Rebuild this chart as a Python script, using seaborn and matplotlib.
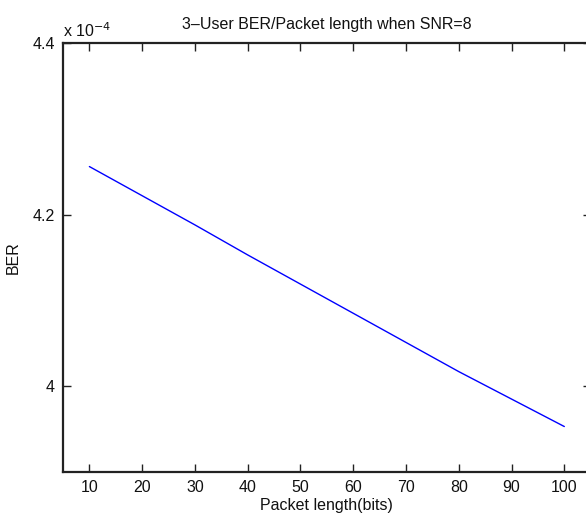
import matplotlib
matplotlib.use("Agg")
import matplotlib.pyplot as plt
import seaborn as sns
import pandas as pd
from matplotlib.ticker import FuncFormatter

# Bit error rate versus packet length for 3 users at SNR = 8
packet_length = [10, 20, 30, 40, 50, 60, 70, 80, 90, 100]
ber = [4.256e-4, 4.222e-4, 4.188e-4, 4.153e-4, 4.119e-4,
       4.085e-4, 4.051e-4, 4.017e-4, 3.985e-4, 3.953e-4]
x_ticks = [10, 20, 30, 40, 50, 60, 70, 80, 90, 100]
y_ticks = [4.0e-4, 4.2e-4, 4.4e-4]

sns.set_style("ticks", {"xtick.direction": "in", "ytick.direction": "in",
                        "xtick.top": True, "ytick.right": True})
plt.rcParams["font.family"] = ["Liberation Sans", "DejaVu Sans"]

df = pd.DataFrame({"Packet length(bits)": packet_length, "BER": ber})

fig = plt.figure(figsize=(5.86, 5.16), dpi=100)
ax = fig.add_axes([63 / 586, 44 / 516, 527.7 / 586, 429 / 516])

sns.lineplot(data=df, x="Packet length(bits)", y="BER", ax=ax,
             color="#0000ff", linewidth=1.0)

ax.set_xlim(5, 105)
ax.set_ylim(3.9e-4, 4.4e-4)
ax.set_xticks(x_ticks)
ax.set_yticks(y_ticks)
ax.yaxis.set_major_formatter(FuncFormatter(lambda v, p: f"{v * 1e4:g}"))

ax.tick_params(which="major", direction="in", length=5.5, width=1.0,
               color="#222222", labelsize=11.5, labelcolor="#111111",
               bottom=True, left=True, top=True, right=True, pad=6)
for side in ["left", "bottom", "top", "right"]:
    ax.spines[side].set_visible(True)
    ax.spines[side].set_color("#222222")
    ax.spines[side].set_linewidth(1.6)

ax.set_xlabel("Packet length(bits)", fontsize=11.5, color="#111111", labelpad=2)
ax.set_ylabel("BER", fontsize=11.5, color="#111111")
ax.yaxis.set_label_coords(-0.081, 0.5)
ax.set_title("3\u2013User BER/Packet length when SNR=8", fontsize=11.5,
             color="#111111", pad=10)

# Exponent marker for the y axis
ax.text(0.0, 1.008, r"x 10$^{-4}$", transform=ax.transAxes, ha="left",
        va="bottom", fontsize=11.5, color="#111111")

fig.savefig("out.png", dpi=100)
